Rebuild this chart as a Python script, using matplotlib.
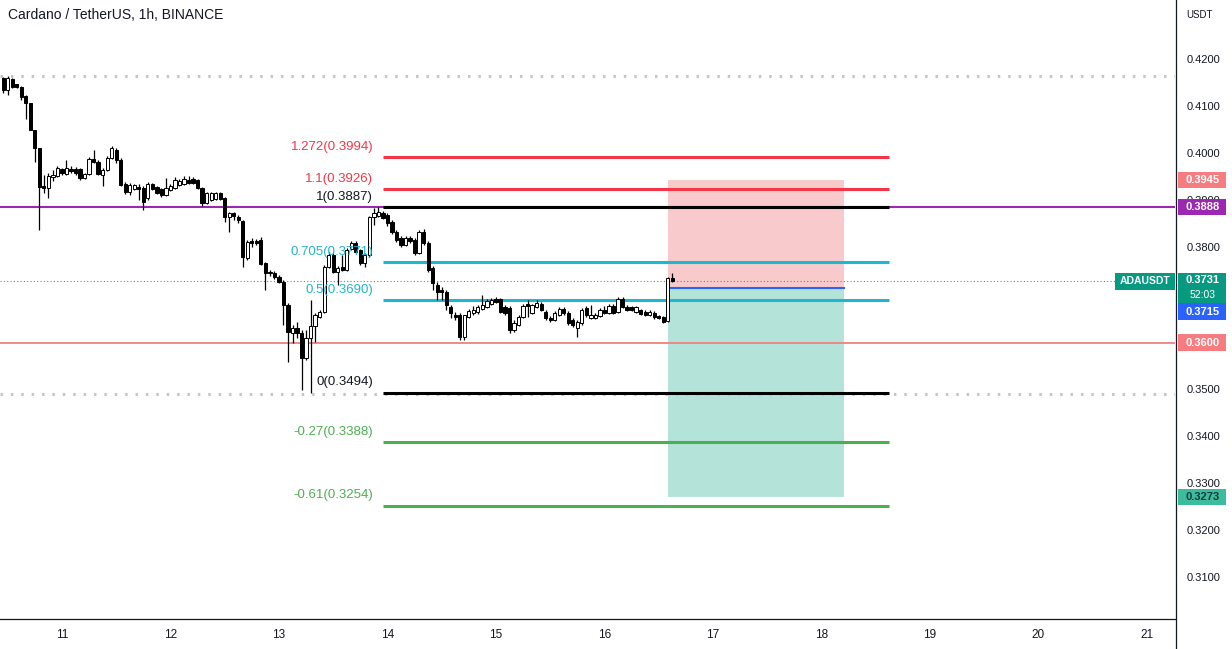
import numpy as np
import matplotlib
matplotlib.use("Agg")
import matplotlib.pyplot as plt
from matplotlib.patches import Rectangle
from matplotlib.lines import Line2D
from matplotlib.transforms import blended_transform_factory

plt.rcParams['font.family'] = ['Liberation Sans', 'DejaVu Sans']

# ADAUSDT 1h candles, first candle = 10th 11:00 (hour -13 from the 11th)
first_hour = -13
opens = [
    .4162, .4136, .4160, .4149, .4143, .4124, .4109, .4051, .4013, .3933,
    .3928, .3952, .3954, .3969, .3958, .3969, .3969, .3969, .3949, .3958,
    .3990, .3983, .3956, .3966, .3992, .4009, .3988, .3937, .3920, .3926,
    .3930, .3928, .3907, .3937, .3930, .3926, .3913, .3924, .3928, .3935,
    .3937, .3945, .3947, .3945, .3928, .3896, .3903, .3905, .3918, .3907,
    .3867, .3875, .3867, .3858, .3780, .3816, .3816, .3818, .3769, .3750,
    .3748, .3739, .3729, .3680, .3620, .3631, .3620, .3567, .3610, .3635,
    .3654, .3665, .3761, .3786, .3750, .3761, .3754, .3799, .3811, .3797,
    .3769, .3786, .3867, .3869, .3875, .3871, .3856, .3835, .3822, .3807,
    .3822, .3818, .3790, .3835, .3811, .3758, .3722, .3712, .3707, .3676,
    .3659, .3659, .3612, .3654, .3663, .3665, .3671, .3676, .3682, .3693,
    .3693, .3676, .3673, .3627, .3637, .3654, .3682, .3663, .3676, .3682,
    .3665, .3652, .3648, .3659, .3671, .3663, .3648, .3631, .3642, .3673,
    .3652, .3652, .3657, .3669, .3663, .3678, .3665, .3693, .3676, .3676,
    .3665, .3669, .3665, .3659, .3663, .3657, .3654, .3646, .3737,
]
highs = [
    .4164, .4166, .4162, .4149, .4145, .4126, .4109, .4051, .4013, .3956,
    .3960, .3966, .3975, .3971, .3988, .3975, .3973, .3971, .3960, .3994,
    .4009, .3988, .3971, .3996, .4017, .4013, .3992, .3941, .3939, .3937,
    .3937, .3933, .3941, .3939, .3933, .3928, .3949, .3937, .3952, .3947,
    .3954, .3954, .3952, .3947, .3930, .3920, .3920, .3920, .3920, .3909,
    .3877, .3877, .3871, .3860, .3818, .3822, .3820, .3824, .3771, .3754,
    .3752, .3744, .3733, .3684, .3637, .3644, .3627, .3627, .3690, .3663,
    .3669, .3765, .3792, .3790, .3763, .3786, .3801, .3816, .3816, .3799,
    .3790, .3869, .3886, .3887, .3879, .3875, .3860, .3839, .3826, .3826,
    .3826, .3822, .3839, .3841, .3816, .3763, .3729, .3718, .3712, .3680,
    .3665, .3663, .3659, .3671, .3678, .3680, .3701, .3693, .3695, .3697,
    .3695, .3680, .3678, .3648, .3659, .3682, .3690, .3682, .3690, .3686,
    .3669, .3657, .3667, .3676, .3676, .3667, .3652, .3648, .3673, .3678,
    .3680, .3663, .3673, .3678, .3682, .3682, .3697, .3697, .3680, .3678,
    .3678, .3671, .3669, .3669, .3667, .3659, .3657, .3739, .3748,
]
lows = [
    .4130, .4126, .4141, .4141, .4115, .4075, .4051, .3983, .3839, .3918,
    .3907, .3943, .3952, .3956, .3956, .3960, .3956, .3945, .3947, .3956,
    .3981, .3956, .3933, .3964, .3990, .3981, .3933, .3916, .3913, .3924,
    .3903, .3882, .3903, .3924, .3916, .3909, .3911, .3922, .3926, .3933,
    .3935, .3937, .3937, .3926, .3890, .3894, .3901, .3903, .3903, .3856,
    .3835, .3860, .3854, .3761, .3775, .3803, .3807, .3765, .3712, .3741,
    .3735, .3727, .3637, .3559, .3599, .3610, .3499, .3563, .3494, .3601,
    .3652, .3663, .3758, .3748, .3722, .3752, .3752, .3797, .3790, .3765,
    .3761, .3782, .3850, .3867, .3862, .3848, .3831, .3814, .3803, .3805,
    .3811, .3786, .3788, .3807, .3750, .3712, .3690, .3690, .3669, .3652,
    .3648, .3606, .3606, .3652, .3659, .3661, .3669, .3673, .3680, .3684,
    .3663, .3659, .3620, .3623, .3635, .3652, .3654, .3661, .3673, .3667,
    .3648, .3644, .3646, .3657, .3659, .3637, .3633, .3612, .3637, .3654,
    .3650, .3650, .3654, .3661, .3661, .3661, .3663, .3673, .3667, .3667,
    .3663, .3659, .3657, .3657, .3650, .3650, .3642, .3644, .3729,
]
closes = [
    .4136, .4162, .4143, .4143, .4121, .4109, .4051, .4013, .3930, .3928,
    .3954, .3956, .3971, .3960, .3971, .3964, .3960, .3949, .3958, .3990,
    .3983, .3958, .3966, .3992, .4013, .3988, .3935, .3920, .3935, .3935,
    .3926, .3899, .3937, .3926, .3918, .3913, .3928, .3933, .3945, .3943,
    .3947, .3939, .3939, .3928, .3896, .3918, .3918, .3918, .3905, .3867,
    .3875, .3869, .3860, .3782, .3814, .3811, .3811, .3767, .3748, .3748,
    .3739, .3729, .3680, .3623, .3631, .3620, .3567, .3610, .3635, .3659,
    .3665, .3761, .3786, .3750, .3758, .3754, .3797, .3811, .3792, .3769,
    .3786, .3867, .3875, .3877, .3865, .3854, .3835, .3818, .3807, .3822,
    .3816, .3790, .3835, .3811, .3754, .3727, .3707, .3707, .3680, .3663,
    .3654, .3612, .3659, .3667, .3669, .3676, .3680, .3688, .3690, .3686,
    .3665, .3663, .3627, .3642, .3654, .3678, .3678, .3680, .3684, .3669,
    .3652, .3648, .3663, .3671, .3663, .3642, .3637, .3644, .3669, .3659,
    .3659, .3659, .3669, .3663, .3678, .3663, .3693, .3676, .3669, .3669,
    .3676, .3661, .3659, .3665, .3654, .3652, .3644, .3737, .3731,
]

# fib retracement drawn from the 13th low to the 14th high
fib_ratios = ['1.272', '1.1', '1', '0.705', '0.5', '0', '-0.27', '-0.61']
fib_levels = [0.3994, 0.3926, 0.3887, 0.3771, 0.3690, 0.3494, 0.3388, 0.3254]
fib_colors = ['#f23645', '#f23645', '#131722', '#22b5cc', '#22b5cc',
              '#131722', '#4caf50', '#4caf50']
fib_line_colors = ['#f23645', '#f23645', '#000000', '#1cb8cf', '#1cb8cf',
                   '#000000', '#4caf50', '#4caf50']
fib_start, fib_end = 71, 183

# short position tool
pos_start, pos_end = 134, 173
entry, stop, target = 0.3715, 0.3945, 0.3273

purple_level = 0.3888
red_level = 0.3600
dotted_levels = [0.4166, 0.3491]
last_price = 0.3731

# 0.37 and 0.36 sit under the price boxes, so they are not shown
price_ticks = [0.42, 0.41, 0.40, 0.39, 0.38, 0.35, 0.34, 0.33, 0.32, 0.31]
day_labels = ['11', '12', '13', '14', '15', '16', '17', '18', '19', '20', '21']

W, H = 1232, 649
fig = plt.figure(figsize=(W / 100, H / 100), dpi=100)
fig.patch.set_facecolor('white')
ax = fig.add_axes([0, 30 / H, 1175 / W, 619 / H])
ax.set_xlim(-13.7, 246.2)
ax.set_ylim(0.30132, 0.43274)

hours = np.arange(len(opens)) + first_hour
o = np.array(opens); c = np.array(closes)
h = np.array(highs); l = np.array(lows)
up = c >= o

# horizontal lines
ax.axhline(purple_level, color='#9c27b0', lw=1.5, zorder=2)
ax.axhline(red_level, color='#f08080', lw=1.3, zorder=2)
for lv in dotted_levels:
    ax.axhline(lv, color='#c4c6cc', lw=2.2, ls=(0, (0.8, 2.6)), zorder=2)
trans_ax = blended_transform_factory(ax.transAxes, ax.transData)
ax.plot([0, 1115 / 1175], [last_price, last_price], transform=trans_ax,
        color='#787b86', lw=0.8, ls=(0, (1, 2)), zorder=2)

# position boxes
ax.add_patch(Rectangle((pos_start, entry), pos_end - pos_start, stop - entry,
                       facecolor='#f9cacb', edgecolor='none', zorder=1))
ax.add_patch(Rectangle((pos_start, target), pos_end - pos_start, entry - target,
                       facecolor='#b4e3d9', edgecolor='none', zorder=1))
ax.plot([pos_start, pos_end], [entry, entry], color='#2962ff', lw=1.5, zorder=3)

# fib levels
for ratio, lv, tc, lc in zip(fib_ratios, fib_levels, fib_colors, fib_line_colors):
    ax.plot([fib_start, fib_end], [lv, lv], color=lc, lw=2.2, zorder=3,
            solid_capstyle='butt')
    ax.annotate(f'{ratio}({lv:.4f})', xy=(fib_start, lv), xytext=(-7, 3),
                textcoords='offset points', ha='right', va='bottom',
                fontsize=9.5, color=tc, zorder=6)

# candles
ax.vlines(hours, l, h, color='black', lw=0.9, zorder=4)
ax.bar(hours, c - o, bottom=o, width=0.72,
       color=np.where(up, 'white', 'black'), edgecolor='black', lw=0.7, zorder=5)

# axes styling
for s in ['top', 'left', 'right']:
    ax.spines[s].set_visible(False)
ax.spines['bottom'].set_color('#131722')
ax.spines['bottom'].set_linewidth(0.9)
ax.set_yticks([])
ax.set_xticks(np.arange(len(day_labels)) * 24)
ax.set_xticklabels(day_labels, fontsize=8.5, color='#131722')
ax.tick_params(axis='x', length=0, pad=7)

fig.add_artist(Line2D([1175.5 / W] * 2, [0, 1], transform=fig.transFigure,
                      color='#131722', lw=0.9))

# right price scale
sc = fig.add_axes([1176 / W, 30 / H, 56 / W, 619 / H])
sc.set_xlim(0, 1)
sc.set_ylim(ax.get_ylim())
sc.axis('off')
for t in price_ticks:
    sc.text(0.19, t, f'{t:.4f}', fontsize=8, color='#131722', va='center', ha='left')

box_h = 0.0035

def price_box(y, text, bg, fg='white', hgt=box_h):
    sc.add_patch(Rectangle((0.04, y - hgt / 2), 0.86, hgt, facecolor=bg,
                           edgecolor='none', zorder=5))
    sc.text(0.47, y, text, fontsize=8, color=fg, ha='center', va='center',
            zorder=6, fontweight='bold')

price_box(stop, '0.3945', '#f77c80')
price_box(purple_level, '0.3888', '#9c27b0')
sc.add_patch(Rectangle((0.04, 0.3684), 0.86, 0.0064, facecolor='#089981',
                       edgecolor='none', zorder=5))
sc.text(0.47, 0.3733, '0.3731', fontsize=8, color='white', ha='center',
        va='center', zorder=6, fontweight='bold')
sc.text(0.47, 0.3701, '52:03', fontsize=7.5, color='white', ha='center',
        va='center', zorder=6)
price_box(0.3666, '0.3715', '#2962ff')
price_box(red_level, '0.3600', '#f77c80')
price_box(0.3272, '0.3273', '#3dbb9f', fg='#0f3d34')

# ticker label on the last price
ax.add_patch(Rectangle((1115 / 1175, 0.3730 - 0.0018), 60 / 1175, 0.0036,
                       transform=trans_ax, facecolor='#089981', edgecolor='none',
                       zorder=7, clip_on=False))
ax.text(1145 / 1175, 0.3730, 'ADAUSDT', transform=trans_ax, fontsize=7.5,
        color='white', ha='center', va='center', zorder=8, fontweight='bold')

fig.text(8 / W, 1 - 15 / H, 'Cardano / TetherUS, 1h, BINANCE', fontsize=10,
         color='#131722', va='center', ha='left')
fig.text(1199 / W, 1 - 15 / H, 'USDT', fontsize=7, color='#131722',
         va='center', ha='center')

fig.savefig('out.png', dpi=100)
